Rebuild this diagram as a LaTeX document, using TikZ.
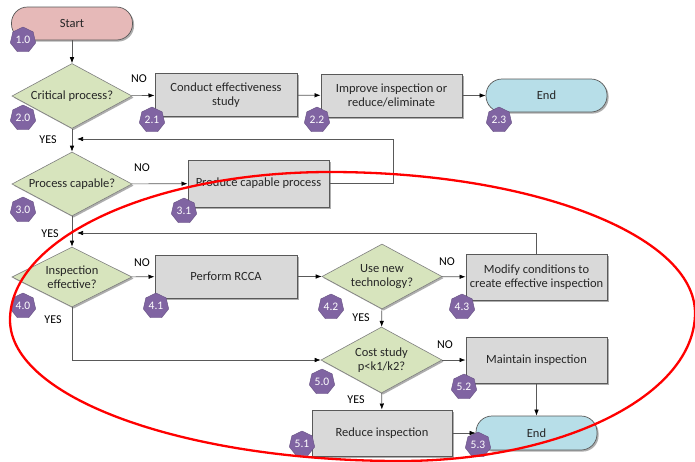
\documentclass[tikz,border=0pt]{standalone}
\usepackage{fontspec}
\setmainfont{Carlito}
\usetikzlibrary{shapes.geometric,shadows,arrows.meta}
\definecolor{boxfill}{HTML}{D9D9D9}
\definecolor{boxline}{HTML}{595959}
\definecolor{decfill}{HTML}{D7E4BD}
\definecolor{decline}{HTML}{7F7F7F}
\definecolor{startfill}{HTML}{E6B9B8}
\definecolor{endfill}{HTML}{B7DEE8}
\definecolor{badgefill}{HTML}{8064A2}
\definecolor{txt}{HTML}{262626}
\definecolor{conn}{HTML}{595959}
\begin{document}
\begin{tikzpicture}[x=1pt,y=-1pt,
  font=\fontsize{12.5}{14}\selectfont, text=txt,
  shad/.style={drop shadow={shadow xshift=1.6pt,shadow yshift=-1.6pt,opacity=0.45,fill=black!70}},
  procbox/.style={rectangle,draw=boxline,line width=1pt,fill=boxfill,align=center,inner sep=2pt,shad},
  decbox/.style={diamond,shape aspect=2,draw=decline,line width=0.6pt,fill=decfill,align=center,inner sep=-4pt,shad},
  termbox/.style={rectangle,rounded corners=16pt,draw=boxline,line width=0.7pt,align=center,minimum width=121pt,minimum height=33pt,shad},
  badge/.style={regular polygon,regular polygon sides=7,fill=badgefill,draw=badgefill!80!black,line width=0.4pt,text=white,inner sep=0pt,minimum size=26pt,font=\fontsize{11.5}{11.5}\selectfont},
  lab/.style={font=\fontsize{12}{12}\selectfont,text=black},
  conn/.style={draw=conn,line width=0.6pt,-{Latex[length=6pt,width=4.5pt,color=black]}}
]
\useasboundingbox (0,0) rectangle (695,461);
\fill[white] (0,0) rectangle (695,461);

% nodes
\node[termbox,fill=startfill] (start) at (72,23.5) {Start};
\node[decbox,minimum width=120pt,minimum height=65pt] (d20) at (72,96) {Critical process?};
\node[procbox,minimum width=142pt,minimum height=43pt] (b21) at (226,95) {Conduct effectiveness\\study};
\node[procbox,minimum width=141pt,minimum height=43pt] (b22) at (391.5,95.5) {Improve inspection or\\reduce/eliminate};
\node[termbox,fill=endfill] (e23) at (546.5,95.5) {End};
\node[decbox,minimum width=120pt,minimum height=64pt] (d30) at (72,184) {Process capable?};
\node[procbox,minimum width=141pt,minimum height=47pt] (b31) at (258.5,183.5) {Produce capable process};
\node[decbox,minimum width=120pt,minimum height=60pt] (d40) at (72,277) {Inspection\\effective?};
\node[procbox,minimum width=142pt,minimum height=43pt] (b41) at (226,276.5) {Perform RCCA};
\node[decbox,minimum width=120pt,minimum height=65pt] (d42) at (382,276.5) {Use new\\technology?};
\node[procbox,minimum width=141pt,minimum height=46pt] (b43) at (536.5,277) {Modify conditions to\\create effective inspection};
\node[decbox,minimum width=121pt,minimum height=66pt] (d50) at (381.5,360) {Cost study\\p<k1/k2?};
\node[procbox,minimum width=141pt,minimum height=46pt] (b52) at (536.5,360) {Maintain inspection};
\node[procbox,minimum width=140pt,minimum height=46pt] (b51) at (382,433) {Reduce inspection};
\node[termbox,fill=endfill,minimum height=34pt] (e53) at (536.5,433) {End};

% badges
\node[badge] (g10) at (23,40) {1.0};
\node[badge] (g20) at (23,118) {2.0};
\node[badge] (g21) at (152,120) {2.1};
\node[badge] (g22) at (317,120) {2.2};
\node[badge] (g23) at (499,120) {2.3};
\node[badge] (g30) at (23,210) {3.0};
\node[badge] (g31) at (184,211) {3.1};
\node[badge] (g40) at (23,306) {4.0};
\node[badge] (g41) at (156,306) {4.1};
\node[badge] (g42) at (331,307) {4.2};
\node[badge] (g43) at (462,307) {4.3};
\node[badge] (g50) at (322,382) {5.0};
\node[badge] (g52) at (464,387) {5.2};
\node[badge] (g51) at (302,444) {5.1};
\node[badge] (g53) at (478,445) {5.3};

% labels
\node[lab] (n20) at (139,79) {NO};
\node[lab] (y20) at (48,140) {YES};
\node[lab] (n30) at (142,168) {NO};
\node[lab] (y30) at (50,234) {YES};
\node[lab] (n40) at (142,263) {NO};
\node[lab] (y40) at (53,320) {YES};
\node[lab] (n42) at (447,262) {NO};
\node[lab] (y42) at (361,318) {YES};
\node[lab] (n50) at (445,345) {NO};
\node[lab] (y50) at (356,400) {YES};

% free-end coordinates
\coordinate (fb1) at (77,139);
\coordinate (fb2) at (77,233);

% connectors
\draw[conn] (start) -- (d20);
\draw[conn] (d20) -- (b21);
\draw[conn] (b21) -- (b22);
\draw[conn] (b22) -- (e23);
\draw[conn] (d20) -- (d30);
\draw[conn] (d30) -- (b31);
\draw[conn] (b31.east) -- (393,183.5) |- (fb1);
\draw[conn] (d30) -- (d40);
\draw[conn] (b43.north) |- (fb2);
\draw[conn] (d40) -- (b41);
\draw[conn] (b41) -- (d42);
\draw[conn] (d42) -- (b43);
\draw[conn] (d42) -- (d50);
\draw[conn] (d40.south) |- (d50.west);
\draw[conn] (d50) -- (b52);
\draw[conn] (d50) -- (b51);
\draw[conn] (b52) -- (e53);
\draw[conn] (b51) -- (e53);

% red ellipse
\draw[red,line width=2.3pt] (10,320)
  .. controls (10,238) and (153,172) .. (330,172)
  .. controls (532,172) and (695,235) .. (695,313)
  .. controls (695,395) and (563,461) .. (400,461)
  .. controls (185,461) and (10,398) .. (10,320) -- cycle;
\end{tikzpicture}
\end{document}
